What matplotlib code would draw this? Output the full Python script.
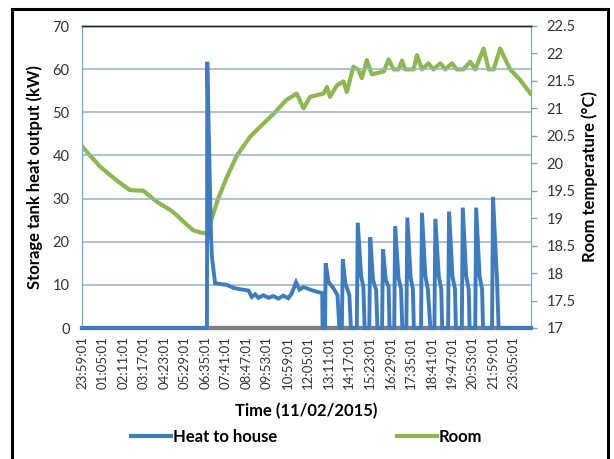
import matplotlib
matplotlib.use("Agg")
import matplotlib.pyplot as plt
from matplotlib.lines import Line2D
from matplotlib.patches import Rectangle

plt.rcParams['font.family'] = ['Lato', 'DejaVu Sans']

# minutes after 23:59:01 on 10/02/2015
heat_min = [0, 401, 402, 411, 414, 417, 427, 443, 465, 486, 507, 534, 545, 556, 566,
            582, 598, 614, 630, 646, 662, 673, 687, 698, 711, 732, 754, 771, 772,
            780, 782, 791, 807, 820, 826,
            834, 837, 845, 858, 863,
            882, 885, 896, 903, 907,
            922, 925, 934, 944, 948,
            963, 966, 975, 984, 987,
            1002, 1005, 1016, 1024, 1028,
            1041, 1044, 1055, 1062, 1065,
            1088, 1091, 1102, 1110, 1118,
            1131, 1134, 1145, 1153, 1156,
            1175, 1178, 1189, 1197, 1200,
            1219, 1222, 1233, 1241, 1244,
            1262, 1265, 1276, 1284, 1287,
            1316, 1319, 1332, 1337, 1440]
heat_kw = [0, 0, 61.7, 31, 21, 16.5, 10.4, 10.2, 10.0, 9.3, 9.0, 8.7, 7.2, 7.8, 7.0,
           7.6, 7.0, 7.4, 6.8, 7.5, 6.9, 8.0, 10.6, 8.9, 9.5, 8.9, 8.4, 8.1, 0,
           0, 15.0, 10.7, 9.2, 7.6, 0,
           0, 15.9, 10.4, 7.6, 0,
           0, 24.4, 11.9, 9.6, 0,
           0, 21.0, 11.1, 8.8, 0,
           0, 18.2, 11.1, 9.6, 0,
           0, 23.6, 11.5, 9.0, 0,
           0, 25.6, 11.5, 9.0, 0,
           0, 26.7, 12, 9, 0,
           0, 25.3, 12, 9, 0,
           0, 27.0, 12, 9, 0,
           0, 27.9, 12, 9, 0,
           0, 27.9, 12, 9, 0,
           0, 30.4, 11, 0, 0]

room_min = [0, 29, 58, 83, 111, 132, 154, 197, 218, 240, 283, 305, 325, 357, 379, 401,
            437, 465, 497, 539, 578, 620, 655, 689, 711, 732, 775, 786, 796, 818, 839,
            850, 871, 887, 898, 914, 930, 968, 984, 1000, 1016, 1027, 1037, 1064, 1075,
            1091, 1112, 1128, 1150, 1166, 1187, 1203, 1224, 1246, 1262, 1289, 1305,
            1321, 1342, 1358, 1374, 1406, 1439]
room_c = [20.31, 20.12, 19.94, 19.82, 19.69, 19.60, 19.51, 19.50, 19.40, 19.30, 19.15,
          19.05, 18.94, 18.78, 18.74, 18.72, 19.36, 19.75, 20.14, 20.48, 20.70, 20.93,
          21.15, 21.27, 21.00, 21.21, 21.27, 21.39, 21.21, 21.42, 21.49, 21.30, 21.76,
          21.70, 21.55, 21.88, 21.62, 21.67, 21.89, 21.71, 21.71, 21.87, 21.71, 21.71,
          21.97, 21.71, 21.82, 21.71, 21.82, 21.71, 21.82, 21.71, 21.71, 21.85, 21.71,
          22.09, 21.71, 21.71, 22.09, 21.90, 21.71, 21.52, 21.27]

time_labels = ["23:59:01", "01:05:01", "02:11:01", "03:17:01", "04:23:01", "05:29:01",
               "06:35:01", "07:41:01", "08:47:01", "09:53:01", "10:59:01", "12:05:01",
               "13:11:01", "14:17:01", "15:23:01", "16:29:01", "17:35:01", "18:41:01",
               "19:47:01", "20:53:01", "21:59:01", "23:05:01"]
label_step = 66  # minutes between labels

blue = '#3d7cc0'
green = '#8cb84e'
grid_col = '#95b3c6'

fig = plt.figure(figsize=(6.14, 4.59), dpi=100)
ax = fig.add_axes([82 / 614, 1 - 328 / 459, 449 / 614, 302 / 459])
ax2 = ax.twinx()

# heat line goes on top of the temperature line
ax.set_zorder(ax2.get_zorder() + 1)
ax.patch.set_visible(False)

ax.plot(heat_min, heat_kw, color=blue, lw=2.8, zorder=4, clip_on=False,
        solid_joinstyle='miter')
ax2.plot(room_min, room_c, color=green, lw=3, zorder=3)

ax.set_xlim(0, 1441)
ax.set_ylim(0, 70)
ax.set_yticks(range(0, 71, 10))
ax2.set_ylim(17, 22.5)
ax2.set_yticks([17 + 0.5 * i for i in range(12)])
ax2.set_yticklabels(['{:g}'.format(17 + 0.5 * i) for i in range(12)])

ax.set_xticks([i * label_step for i in range(len(time_labels))])
ax.set_xticklabels(time_labels, rotation=90, fontsize=9.5, color='#333333')
ax.tick_params(axis='x', length=0, pad=6)
ax.tick_params(axis='y', length=0, pad=9, labelsize=10.5, colors='#333333')
ax2.tick_params(axis='y', length=4, width=1, color='#7aa6c8', pad=7,
                labelsize=10.5, colors='#333333')

ax2.grid(False)
for v in range(10, 71, 10):
    ax.axhline(v, color=grid_col, lw=1.1, zorder=0)

for a in (ax, ax2):
    a.spines['left'].set_color('#7aa6c8')
    a.spines['right'].set_color('#7aa6c8')
    a.spines['top'].set_color('#222222')
    a.spines['top'].set_linewidth(1.0)
    a.spines['bottom'].set_color('#7f7f7f')
    a.spines['bottom'].set_linewidth(3)

ax.set_ylabel('Storage tank heat output (kW)', fontsize=12, fontweight='bold',
              labelpad=7)
ax2.set_ylabel('Room temperature (°C)', fontsize=12, fontweight='bold', labelpad=4)
ax.set_xlabel('Time (11/02/2015)', fontsize=12, fontweight='bold', labelpad=10)

handles = [Line2D([], [], color=blue, lw=3), Line2D([], [], color=green, lw=3)]
fig.legend(handles, ['Heat to house', 'Room'], loc='center', ncol=2,
           bbox_to_anchor=(0.5, 1 - 437 / 459), frameon=False,
           prop={'size': 12, 'weight': 'bold'}, handlelength=2.4,
           handletextpad=0.1, columnspacing=7.2)

# outer chart border
fig.patches.append(Rectangle((12 / 614, -0.05), 596 / 614, 1.05 - 9 / 459,
                             transform=fig.transFigure, fill=False,
                             edgecolor='black', lw=2.2))

fig.savefig('out.png', dpi=100)
